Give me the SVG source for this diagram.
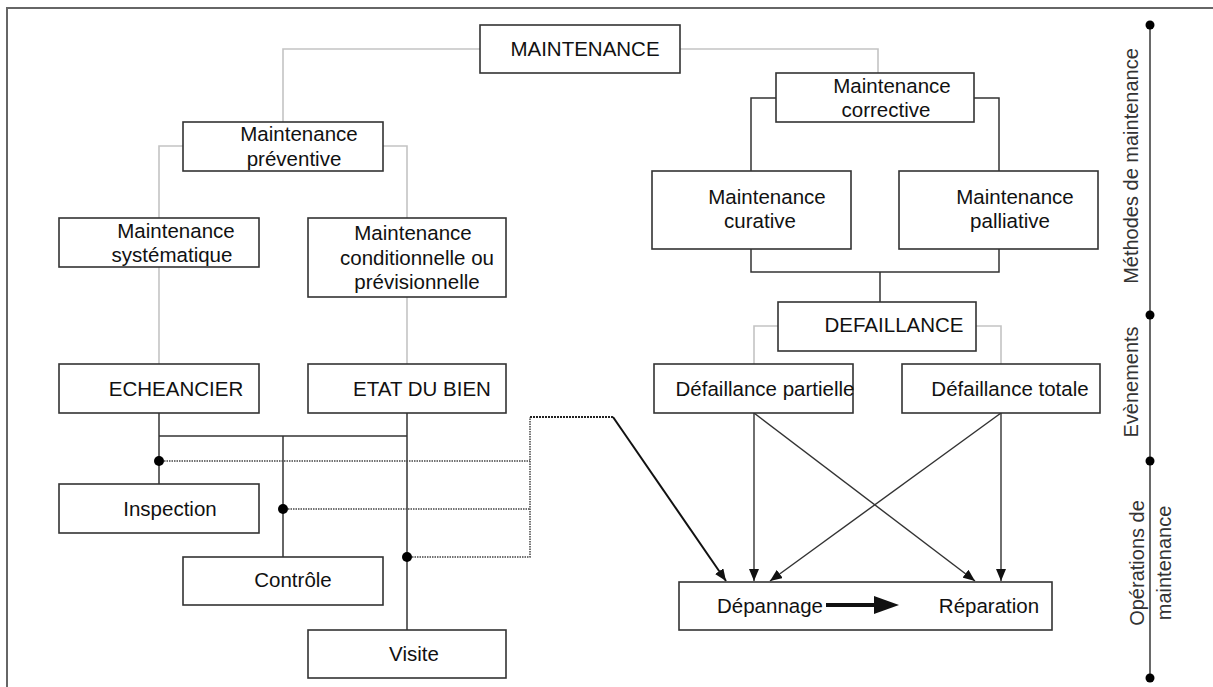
<svg xmlns="http://www.w3.org/2000/svg" width="1213" height="687" viewBox="0 0 1213 687">
<style>
.bg{fill:#fff}
.box{fill:#fff;stroke:#333;stroke-width:1.6}
.t{font-family:"Liberation Sans",Arial,sans-serif;font-size:20.5px;fill:#111;text-anchor:middle}
.r{font-family:"Liberation Sans",Arial,sans-serif;font-size:20px;fill:#333;text-anchor:middle}
.g{fill:none;stroke:#c4c4c4;stroke-width:1.6}
.k{fill:none;stroke:#333;stroke-width:1.5}
.d{fill:none;stroke:#444;stroke-width:1.5;stroke-dasharray:1.5 1}
.a{fill:none;stroke:#333;stroke-width:1.4;marker-end:url(#ah)}
.dot{fill:#000}
</style>
<defs>
<marker id="ah" viewBox="0 0 12 10" refX="12" refY="5" markerWidth="12" markerHeight="10" markerUnits="userSpaceOnUse" orient="auto">
<path d="M0,0 L12,5 L0,10 Z" fill="#111"/>
</marker>
</defs>
<rect class="bg" width="1213" height="687"/>
<path d="M7,687 V8 H1213" fill="none" stroke="#666" stroke-width="2"/>

<g id="connectors">
<path class="g" d="M480,49 H283 V122"/>
<path class="g" d="M680,49 H878 V73"/>
<path class="g" d="M183,146 H159 V218"/>
<path class="g" d="M383,146 H407 V218"/>
<path class="g" d="M159,267 V364"/>
<path class="g" d="M407,297 V364"/>
<path class="k" d="M776,98 H751 V171"/>
<path class="k" d="M974,98 H999 V171"/>
<path class="k" d="M751,249 V272 H999 V249"/>
<path class="k" d="M880,272 V302"/>
<path class="g" d="M778,326 H754 V364"/>
<path class="g" d="M976,326 H1001 V364"/>
<path class="k" d="M159,413 V484"/>
<path class="k" d="M407,413 V630"/>
<path class="k" d="M159,436 H407"/>
<path class="k" d="M283,436 V557"/>
<path class="d" d="M159,461 H530"/>
<path class="d" d="M283,509 H530"/>
<path class="d" d="M407,557 H530 V417"/>
<path fill="none" stroke="#222" stroke-width="2.2" stroke-dasharray="2 1" d="M530,417 H613"/>
<path fill="none" stroke="#111" stroke-width="2" marker-end="url(#ah)" d="M613,417 L726,581"/>
<path class="a" d="M754,413 V581"/>
<path class="a" d="M754,413 L975,581"/>
<path class="a" d="M1001,413 V581"/>
<path class="a" d="M1001,413 L770,581"/>
<circle class="dot" cx="159" cy="461" r="5"/>
<circle class="dot" cx="283" cy="509" r="5"/>
<circle class="dot" cx="407" cy="557" r="5"/>
</g>

<g id="n-maintenance"><rect class="box" x="480" y="25" width="200" height="48"/><text class="t" x="585" y="56">MAINTENANCE</text></g>
<g id="n-preventive"><rect class="box" x="183" y="122" width="200" height="49"/><text class="t" x="299" y="141">Maintenance</text><text class="t" x="294" y="166">préventive</text></g>
<g id="n-systematique"><rect class="box" x="59" y="218" width="200" height="49"/><text class="t" x="176" y="238">Maintenance</text><text class="t" x="172" y="262">systématique</text></g>
<g id="n-conditionnelle"><rect class="box" x="308" y="218" width="198" height="79"/><text class="t" x="413" y="240">Maintenance</text><text class="t" x="417" y="265">conditionnelle ou</text><text class="t" x="417" y="289">prévisionnelle</text></g>
<g id="n-echeancier"><rect class="box" x="59" y="364" width="200" height="49"/><text class="t" x="176" y="396">ECHEANCIER</text></g>
<g id="n-etat"><rect class="box" x="308" y="364" width="198" height="49"/><text class="t" x="422" y="396">ETAT DU BIEN</text></g>
<g id="n-inspection"><rect class="box" x="59" y="484" width="200" height="49"/><text class="t" x="170" y="516">Inspection</text></g>
<g id="n-controle"><rect class="box" x="183" y="557" width="200" height="48"/><text class="t" x="293" y="587">Contrôle</text></g>
<g id="n-visite"><rect class="box" x="308" y="630" width="198" height="48"/><text class="t" x="414" y="661">Visite</text></g>
<g id="n-corrective"><rect class="box" x="776" y="73" width="198" height="49"/><text class="t" x="892" y="93">Maintenance</text><text class="t" x="886" y="117">corrective</text></g>
<g id="n-curative"><rect class="box" x="652" y="171" width="199" height="78"/><text class="t" x="767" y="204">Maintenance</text><text class="t" x="760" y="228">curative</text></g>
<g id="n-palliative"><rect class="box" x="899" y="171" width="199" height="78"/><text class="t" x="1015" y="204">Maintenance</text><text class="t" x="1010" y="228">palliative</text></g>
<g id="n-defaillance"><rect class="box" x="778" y="302" width="198" height="49"/><text class="t" x="894" y="332">DEFAILLANCE</text></g>
<g id="n-partielle"><rect class="box" x="654" y="364" width="199" height="49"/><text class="t" x="765" y="396">Défaillance partielle</text></g>
<g id="n-totale"><rect class="box" x="902" y="364" width="198" height="49"/><text class="t" x="1010" y="396">Défaillance totale</text></g>
<g id="n-operations"><rect class="box" x="679" y="582" width="373" height="48"/><text class="t" x="770" y="613">Dépannage</text><text class="t" x="989" y="613">Réparation</text><path d="M826,605 H877" stroke="#111" stroke-width="4"/><path d="M874,596 L899,605 L874,614 Z" fill="#111"/></g>

<g id="axis">
<path d="M1150,25 V678" stroke="#444" stroke-width="1.6"/>
<circle class="dot" cx="1150" cy="25" r="4.5"/>
<circle class="dot" cx="1150" cy="315" r="4.5"/>
<circle class="dot" cx="1150" cy="461" r="4.5"/>
<circle class="dot" cx="1150" cy="678" r="4.5"/>
<text class="r" transform="translate(1131,166) rotate(-90)" y="7">Méthodes de maintenance</text>
<text class="r" transform="translate(1131,382) rotate(-90)" y="7">Evènements</text>
<text class="r" transform="translate(1137,563) rotate(-90)" y="7">Opérations de</text>
<text class="r" transform="translate(1164,563) rotate(-90)" y="7">maintenance</text>
</g>
</svg>
